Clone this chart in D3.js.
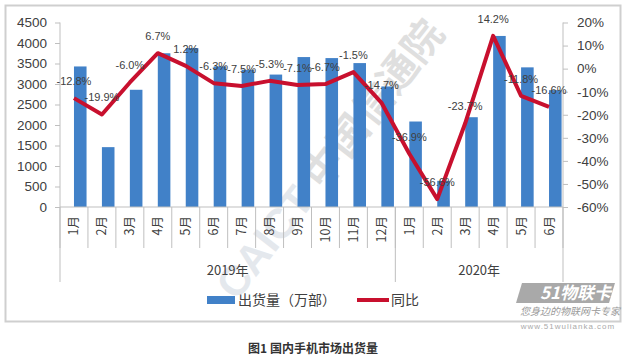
<!DOCTYPE html>
<html><head><meta charset="utf-8">
<script src="https://cdn.jsdelivr.net/npm/d3@7"></script>
<style>
body{margin:0;background:#fff;}
svg{display:block;}
</style></head>
<body>
<svg id="c" width="630" height="363"></svg>
<script>
const months = ["1月","2月","3月","4月","5月","6月","7月","8月","9月","10月","11月","12月","1月","2月","3月","4月","5月","6月"];
const shipments = [3428,1460,2859,3750,3877,3430,3347,3230,3657,3632,3510,2940,2085,638,2190,4172,3406,2850];
const yoy = [-12.8,-19.9,-6.0,6.7,1.2,-6.3,-7.5,-5.3,-7.1,-6.7,-1.5,-14.7,-36.9,-56.6,-23.7,14.2,-11.8,-16.6];
const years = ["2019年","2020年"];
const yearCounts = [12,6];
const leftTicks = [0,500,1000,1500,2000,2500,3000,3500,4000,4500];
const rightTicks = [-60,-50,-40,-30,-20,-10,0,10,20];
const legendLabels = ["出货量（万部）","同比"];
const caption = "图1  国内手机市场出货量";

const svg = d3.select("#c");
const L = 60, R = 563, T = 22.5, B = 207;
const numFont = "'Liberation Sans', Arial, sans-serif";
const cjkFont = "'Noto Sans CJK SC', sans-serif";

// frame
svg.append("rect").attr("x",5.5).attr("y",5.5).attr("width",615).attr("height",316)
  .attr("fill","#fff").attr("stroke","#cfcfcf").attr("stroke-width",2);

const x = d3.scaleBand().domain(d3.range(months.length)).range([L,R]).padding(0);
const yL = d3.scaleLinear().domain([0,4500]).range([B,T]);
const yR = d3.scaleLinear().domain([-60,20]).range([B,T]);
const bw = x.bandwidth();
const cx = i => x(i) + bw/2;

// watermark
const wm = svg.append("g").attr("transform","translate(318,175) rotate(-52)").attr("opacity",0.22);
wm.append("text").attr("x",-150).attr("y",14).attr("font-family",numFont).attr("font-weight","bold")
  .attr("font-size",42).attr("fill","#8a9bb0").text("CAICT");
wm.append("text").attr("x",-10).attr("y",14).attr("font-family",cjkFont).attr("font-weight","bold")
  .attr("font-size",40).attr("fill","#707070").text("中国信通院");

// bars
svg.append("g").selectAll("rect").data(shipments).join("rect")
  .attr("x",(d,i)=>cx(i)).attr("width",bw*0.45)
  .attr("y",d=>yL(d)).attr("height",d=>B-yL(d))
  .attr("fill","#4181c8");

// axes
const axCol = "#bfbfbf";
const leftAxis = svg.append("g").attr("transform",`translate(${L},0)`)
  .call(d3.axisLeft(yL).tickValues(leftTicks).tickSize(5).tickPadding(8).tickFormat(d3.format("d")));
const rightAxis = svg.append("g").attr("transform",`translate(${R},0)`)
  .call(d3.axisRight(yR).tickValues(rightTicks).tickSize(5).tickPadding(9).tickFormat(d=>d+"%"));
[leftAxis,rightAxis].forEach(g=>{
  g.select(".domain").remove();
  g.selectAll(".tick line").attr("stroke",axCol);
  g.selectAll(".tick text").attr("fill","#404040").attr("font-family",numFont).attr("font-size",13.5);
});
svg.append("line").attr("x1",L).attr("x2",L).attr("y1",T).attr("y2",B).attr("stroke",axCol);
svg.append("line").attr("x1",R).attr("x2",R).attr("y1",T).attr("y2",B).attr("stroke",axCol);

// x axis line and category separators
svg.append("line").attr("x1",L).attr("x2",R).attr("y1",B).attr("y2",B).attr("stroke",axCol);
svg.append("g").selectAll("line").data(d3.range(months.length+1)).join("line")
  .attr("x1",i=>L+i*bw).attr("x2",i=>L+i*bw).attr("y1",B).attr("y2",248)
  .attr("stroke",axCol);
// month labels
svg.append("g").selectAll("text").data(months).join("text")
  .attr("transform",(d,i)=>`translate(${cx(i)+4.5},216) rotate(-90)`)
  .attr("text-anchor","end").attr("font-family",cjkFont).attr("font-size",12.5)
  .attr("fill","#404040").text(d=>d);
// year groups
let start = 0;
const yb = [0];
yearCounts.forEach(c=>{start+=c; yb.push(start);});
svg.append("g").selectAll("line").data(yb).join("line")
  .attr("x1",i=>L+i*bw).attr("x2",i=>L+i*bw).attr("y1",B).attr("y2",282).attr("stroke",axCol);
svg.append("g").selectAll("text").data(years).join("text")
  .attr("x",(d,k)=>L+(yb[k]+yb[k+1])/2*bw).attr("y",275)
  .attr("text-anchor","middle").attr("font-family",cjkFont).attr("font-size",13)
  .attr("fill","#404040").text(d=>d);

// line
const line = d3.line().x((d,i)=>cx(i)).y(d=>yR(d));
svg.append("path").datum(yoy).attr("d",line).attr("fill","none")
  .attr("stroke","#c8102e").attr("stroke-width",4).attr("stroke-linejoin","round");

// data labels
svg.append("g").selectAll("text").data(yoy).join("text")
  .attr("x",(d,i)=>cx(i)).attr("y",d=>yR(d)-17).attr("dy","0.35em")
  .attr("text-anchor","middle").attr("font-family",numFont).attr("font-size",11)
  .attr("fill","#404040").text(d=>d.toFixed(1)+"%");

// legend
const lg = svg.append("g");
lg.append("rect").attr("x",207).attr("y",296).attr("width",28).attr("height",8).attr("fill","#4181c8");
lg.append("text").attr("x",238).attr("y",300).attr("dy","0.35em").attr("font-family",cjkFont)
  .attr("font-size",14).attr("fill","#404040").text(legendLabels[0]);
lg.append("line").attr("x1",357).attr("x2",389).attr("y1",300).attr("y2",300)
  .attr("stroke","#c8102e").attr("stroke-width",4);
lg.append("text").attr("x",391).attr("y",300).attr("dy","0.35em").attr("font-family",cjkFont)
  .attr("font-size",14).attr("fill","#404040").text(legendLabels[1]);

// logo watermark bottom-right
const lo = svg.append("g");
lo.append("path").attr("d","M522,283 L615,283 L609,303 L516,303 Z").attr("fill","#9a9a9a").attr("opacity",0.85);
lo.append("text").attr("x",540).attr("y",299).attr("font-family",cjkFont).attr("font-weight","bold")
  .attr("font-size",17).attr("fill","#fff").attr("font-style","italic").text("51物联卡");
lo.append("text").attr("x",570).attr("y",315).attr("text-anchor","middle").attr("font-family",cjkFont)
  .attr("font-size",10).attr("fill","#9a9a9a").attr("font-style","italic").text("您身边的物联网卡专家");
lo.append("text").attr("x",568).attr("y",329).attr("text-anchor","middle").attr("font-family",numFont)
  .attr("font-size",8).attr("fill","#aaa").attr("letter-spacing",1).text("www.51wulianka.com");

// caption
svg.append("text").attr("x",313).attr("y",349).attr("dy","0.35em").attr("text-anchor","middle")
  .attr("font-family",cjkFont).attr("font-weight","bold").attr("font-size",12)
  .attr("fill","#333").text(caption);
</script>
</body></html>
